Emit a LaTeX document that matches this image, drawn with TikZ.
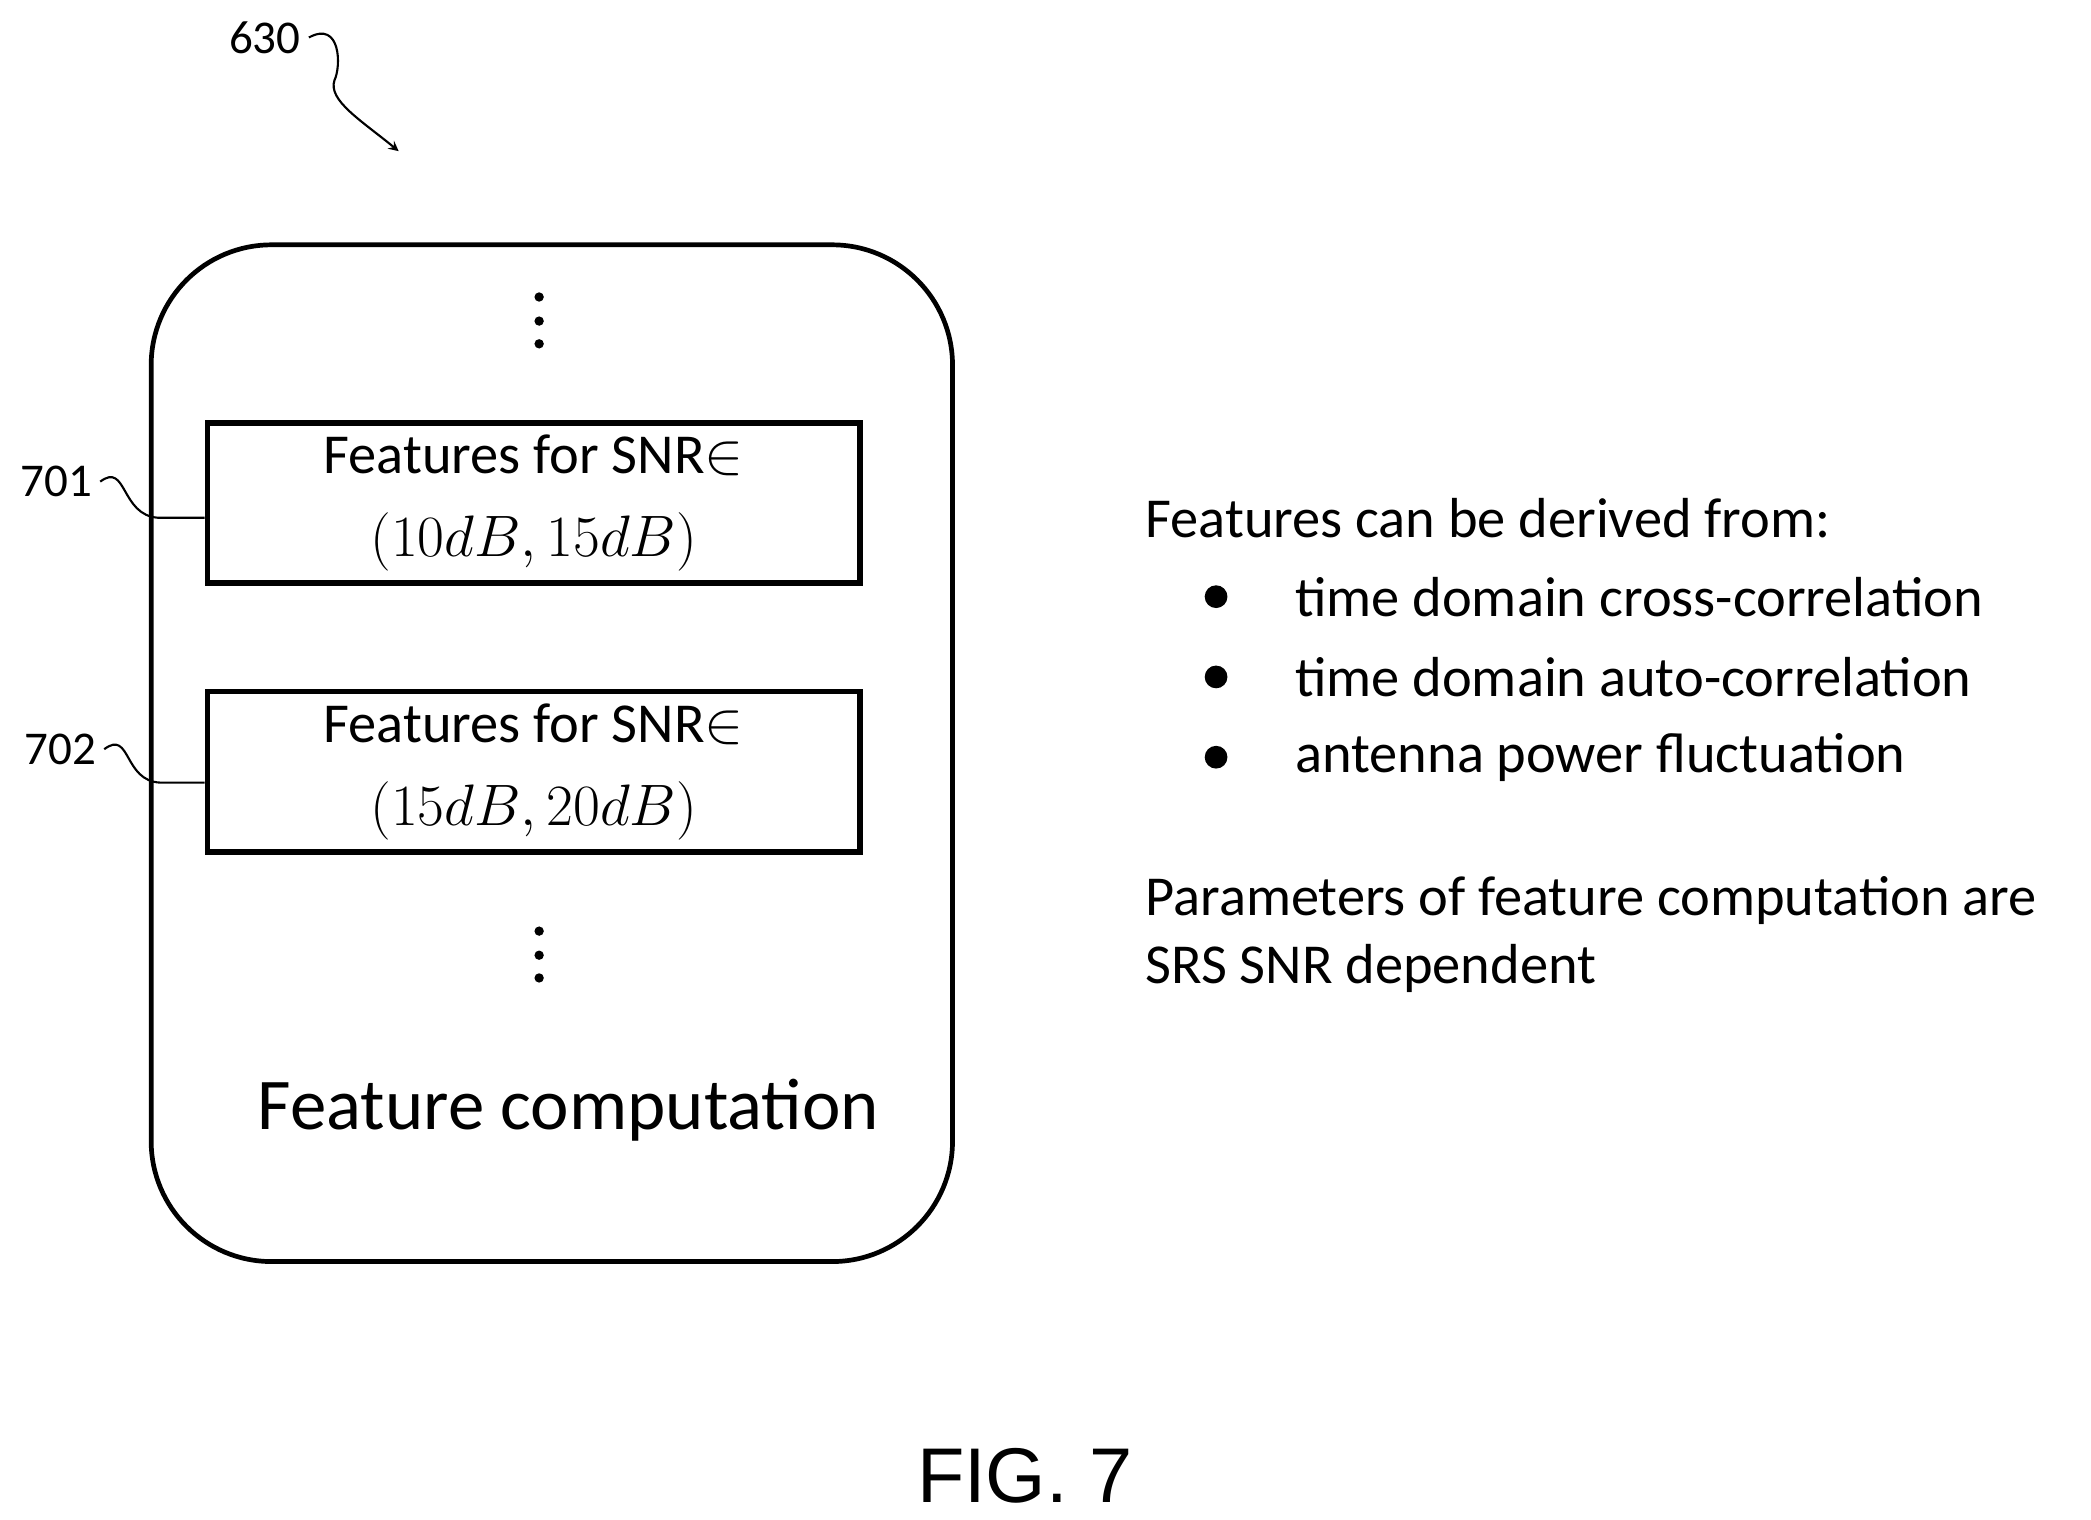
\documentclass[tikz,border=0pt]{standalone}
\usepackage{fontspec}
\setmainfont{Carlito}
\newfontfamily\figfont{Liberation Sans}
\usetikzlibrary{positioning}

\tikzset{
  feature box/.style={draw, line width=2.4pt, minimum width=9.76cm, minimum height=2.4cm, align=center, font=\fontsize{24}{35}\selectfont},
  ref label/.style={font=\fontsize{20}{24}\selectfont},
  side text/.style={anchor=west, font=\fontsize{24}{30}\selectfont},
  leader/.style={line width=0.9pt},
  dot/.style={fill, circle, inner sep=0pt, minimum size=0.14cm}
}

\begin{document}
\begin{tikzpicture}[x=0.02cm, y=-0.02cm]
  \useasboundingbox (0,0) rectangle (1563,1136);

  % outer block
  \draw [line width=2pt, rounded corners=1.8cm] (113,183) rectangle (712,943);
  \foreach \y in {222,240,257} \node [dot] at (403,\y) {};
  \foreach \y in {696,714,731} \node [dot] at (403,\y) {};

  \node [feature box] (b701) at (399,376) {Features for SNR$\in$\\$(10dB,15dB)$};
  \node [feature box] (b702) at (399,577) {Features for SNR$\in$\\$(15dB,20dB)$};
  \node [font=\fontsize{31}{36}\selectfont] (fc) at (425,830) {Feature computation};

  % reference numerals
  \node [ref label] (l701) at (42,360) {701};
  \draw [leader] (l701.east) .. controls (95,345) and (90,385) .. (118,387) -- (b701.west |- 0,387);
  \node [ref label] (l702) at (45,560) {702};
  \draw [leader] (l702.east) .. controls (98,545) and (92,584) .. (120,585) -- (b702.west |- 0,585);
  \node [ref label] (l630) at (198,28) {630};
  \coordinate (a630) at (298,113);
  \draw [leader, ->, >=stealth] (l630.east) .. controls (255,15) and (255,50) .. (250,60) .. controls (245,75) and (270,90) .. (a630);

  % side notes
  \node [side text] (derived) at (850,387) {Features can be derived from:};
  \foreach \y/\t in {446/time domain cross-correlation, 506/time domain auto-correlation, 566/antenna power fluctuation} {
    \fill (909,\y) circle (0.17cm);
    \node [side text] at (962,\y) {\t};
  }
  \node [side text] (param) at (850,673) {Parameters of feature computation are};
  \node [side text] (dep) at (850,724) {SRS SNR dependent};

  \node [font=\figfont\fontsize{33}{40}\selectfont] (fig) at (766,1103) {FIG. 7};
\end{tikzpicture}
\end{document}
